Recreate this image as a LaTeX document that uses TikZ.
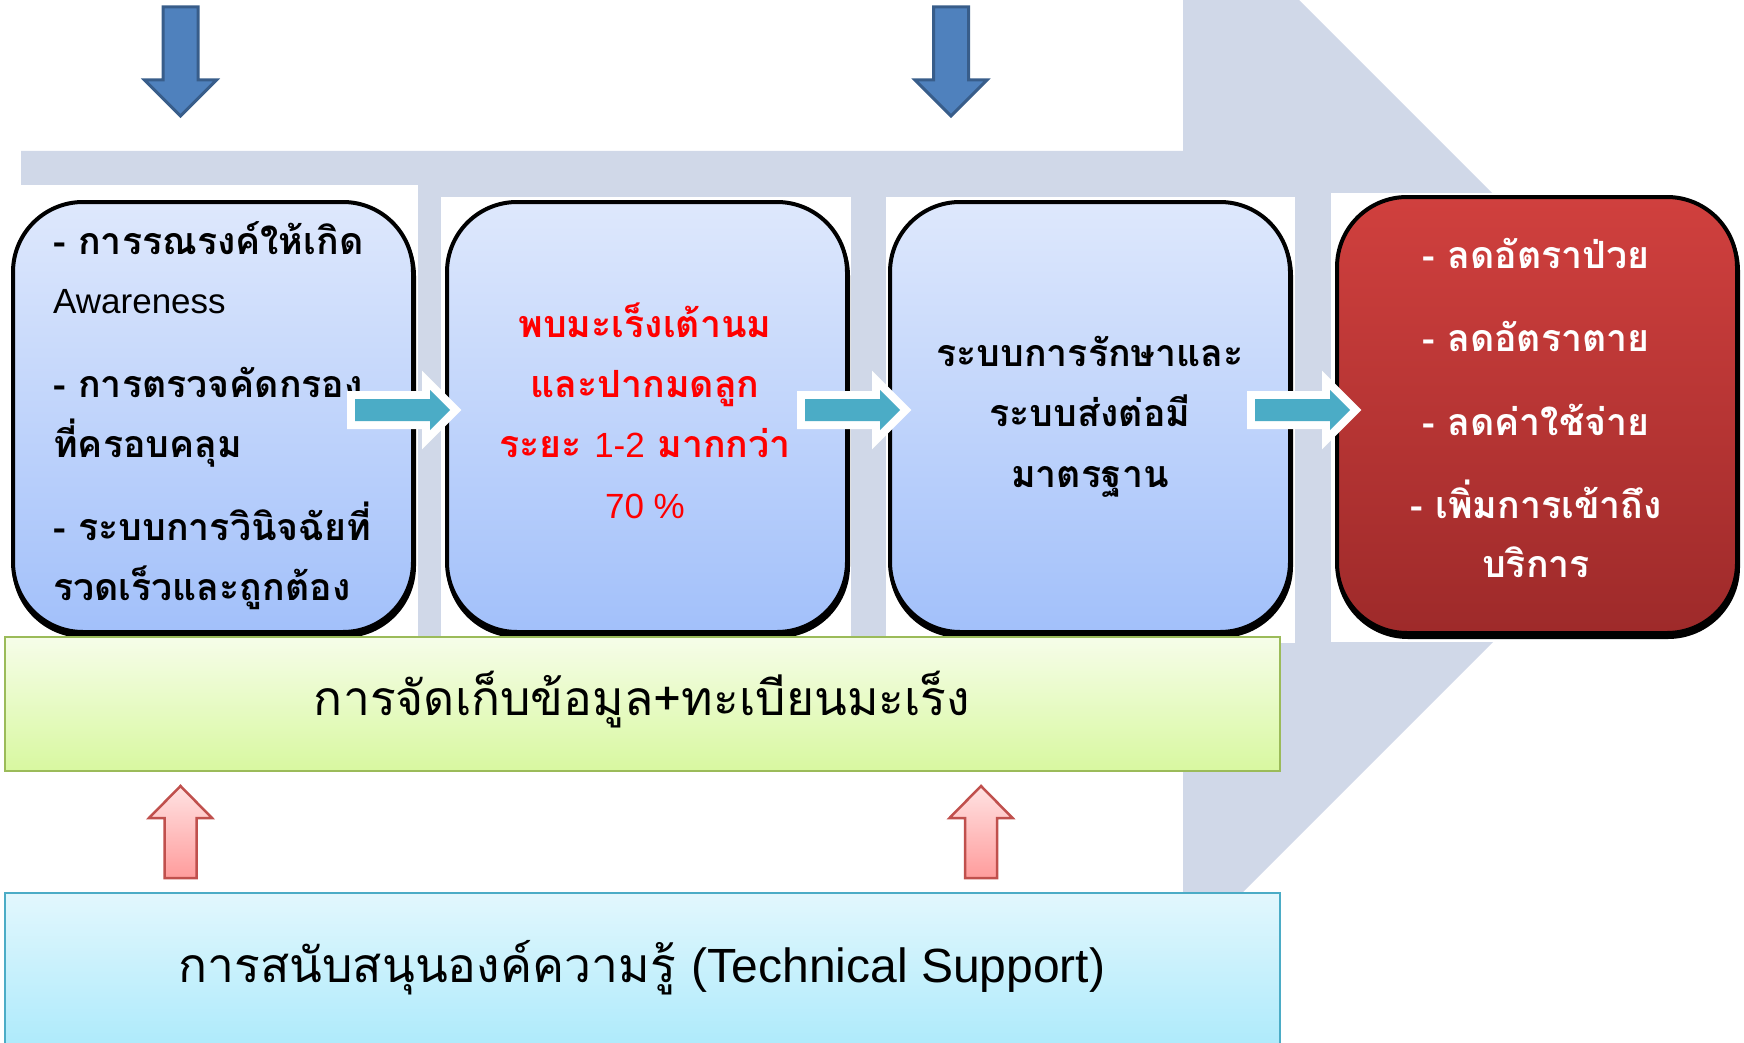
\documentclass[tikz,border=0pt]{standalone}
\usepackage{fontspec}
\setmainfont{Liberation Sans}
\newfontfamily\thai[Script=Thai]{Loma}
\newfontfamily\lat{Liberation Sans}
\newcommand{\latsm}{\lat\mdseries\fontsize{35}{40}\selectfont}
\definecolor{chev}{HTML}{D0D8E8}
\definecolor{bluetop}{HTML}{DEE8FC}
\definecolor{bluebot}{HTML}{A2C0FA}
\definecolor{redtop}{HTML}{D0403E}
\definecolor{redbot}{HTML}{9E2A2A}
\definecolor{tealc}{HTML}{4BACC6}
\definecolor{darrow}{HTML}{4F81BD}
\definecolor{darrowb}{HTML}{385D8A}
\definecolor{uarrowt}{HTML}{FFE2E2}
\definecolor{uarrowb}{HTML}{FF9C9C}
\definecolor{uarrowd}{HTML}{C0504D}
\definecolor{grtop}{HTML}{F6FDE9}
\definecolor{grbot}{HTML}{D8F8A0}
\definecolor{grb}{HTML}{9BBB59}
\definecolor{cytop}{HTML}{E2F7FD}
\definecolor{cybot}{HTML}{A8E9FB}
\definecolor{cyb}{HTML}{4BACC6}
\definecolor{redtxt}{HTML}{FF0000}
\begin{document}
\begin{tikzpicture}[x=1pt,y=-1pt,
  boxbase/.style={rounded corners=70pt, minimum width=400pt, minimum height=430pt, line width=4pt, draw=black, inner sep=0pt},
  bluebox/.style={boxbase, top color=bluetop, bottom color=bluebot},
  redbox/.style={boxbase, minimum height=436pt, top color=redtop, bottom color=redbot},
  shadowbox/.style={boxbase, fill=black},
  boxtxt/.style={inner sep=0pt, font=\thai\bfseries\fontsize{37.5}{44}\selectfont},
  lefttxt/.style={boxtxt, anchor=base west},
  midtxt/.style={boxtxt, anchor=base},
  bigtxt/.style={inner sep=0pt, anchor=base, font=\thai\fontsize{48}{58}\selectfont},
  tealarrow/.style={fill=tealc},
  tealedge/.style={draw=white, line width=16pt, line join=miter},
  downarrow/.style={fill=darrow, draw=darrowb, line width=3pt},
  uparrow/.style={top color=uarrowt, bottom color=uarrowb, draw=uarrowd, line width=2.5pt},
  wide/.style={minimum width=1275pt, inner sep=0pt, line width=2.5pt}
]
\useasboundingbox (0,0) rectangle (1744,1043);
\clip (0,0) rectangle (1744,1043);
% background chevron
\fill[chev] (21,151) -- (1183,151) -- (1183,-116) -- (1717,418) -- (1183,952) -- (1183,685) -- (21,685) -- cycle;
% white panels
\fill[white] (0,185) rectangle (418,640);
\fill[white] (441,197) rectangle (851,640);
\fill[white] (886,197) rectangle (1295,643);
\fill[white] (1331,193) rectangle (1760,642);
% boxes
\node[shadowbox] (s1) at (214,421) {};
\node[shadowbox] (s2) at (648,421) {};
\node[shadowbox] (s3) at (1091,421) {};
\node[shadowbox, minimum height=436pt] (s4) at (1538,419) {};
\node[bluebox] (b1) at (213,417) {};
\node[bluebox] (b2) at (647,417) {};
\node[bluebox] (b3) at (1090,417) {};
\node[redbox] (b4) at (1537,415) {};
% box 1 text
\node[lefttxt] (t1a) at (53,254) {- การรณรงค์ให้เกิด};
\node[lefttxt] (t1b) at (53,313) {\latsm Awareness};
\node[lefttxt] (t1c) at (53,397) {- การตรวจคัดกรอง};
\node[lefttxt] (t1d) at (53,457) {ที่ครอบคลุม};
\node[lefttxt] (t1e) at (53,540) {- ระบบการวินิจฉัยที่};
\node[lefttxt] (t1f) at (53,600) {รวดเร็วและถูกต้อง};
% box 2 text
\node[midtxt, text=redtxt] (t2a) at (645,337) {พบมะเร็งเต้านม};
\node[midtxt, text=redtxt] (t2b) at (645,397) {และปากมดลูก};
\node[midtxt, text=redtxt] (t2c) at (645,457) {ระยะ {\latsm 1-2} มากกว่า};
\node[midtxt, text=redtxt] (t2d) at (645,518) {\latsm 70 \%};
% box 3 text
\node[midtxt] (t3a) at (1090,366) {ระบบการรักษาและ};
\node[midtxt] (t3b) at (1090,426) {ระบบส่งต่อมี};
\node[midtxt] (t3c) at (1090,487) {มาตรฐาน};
% box 4 text
\node[midtxt, text=white] (t4a) at (1536,268) {- ลดอัตราป่วย};
\node[midtxt, text=white] (t4b) at (1536,351) {- ลดอัตราตาย};
\node[midtxt, text=white] (t4c) at (1536,435) {- ลดค่าใช้จ่าย};
\node[midtxt, text=white] (t4d) at (1536,518) {- เพิ่มการเข้าถึง};
\node[midtxt, text=white] (t4e) at (1536,577) {บริการ};
% teal arrows between boxes
\foreach \L/\T in {355/450, 805/900, 1255/1350} {
  \draw[tealedge] (\L,399) -- (\T-20,399) -- (\T-20,390) -- (\T,410) -- (\T-20,430) -- (\T-20,421) -- (\L,421) -- cycle;
  \fill[tealarrow] (\L,399) -- (\T-20,399) -- (\T-20,390) -- (\T,410) -- (\T-20,430) -- (\T-20,421) -- (\L,421) -- cycle;
}
% green and cyan bars
\node[wide, minimum height=134pt, draw=grb, top color=grtop, bottom color=grbot] (data) at (642.5,704) {};
\node[wide, minimum height=170pt, draw=cyb, top color=cytop, bottom color=cybot] (support) at (642.5,978) {};
\node[bigtxt] (tdata) at (642,715) {การจัดเก็บข้อมูล+ทะเบียนมะเร็ง};
\node[bigtxt] (tsupp) at (642,982) {การสนับสนุนองค์ความรู้ {\lat (Technical Support)}};
% down arrows
\foreach \c in {180.5, 951} {
  \draw[downarrow] (\c-17.5,7) -- (\c+17.5,7) -- (\c+17.5,80) -- (\c+36,80) -- (\c,116) -- (\c-36,80) -- (\c-17.5,80) -- cycle;
}
% up arrows
\foreach \c in {180.5, 981} {
  \draw[uparrow] (\c,786) -- (\c+31.5,818) -- (\c+16,818) -- (\c+16,878) -- (\c-16,878) -- (\c-16,818) -- (\c-31.5,818) -- cycle;
}
\end{tikzpicture}
\end{document}
